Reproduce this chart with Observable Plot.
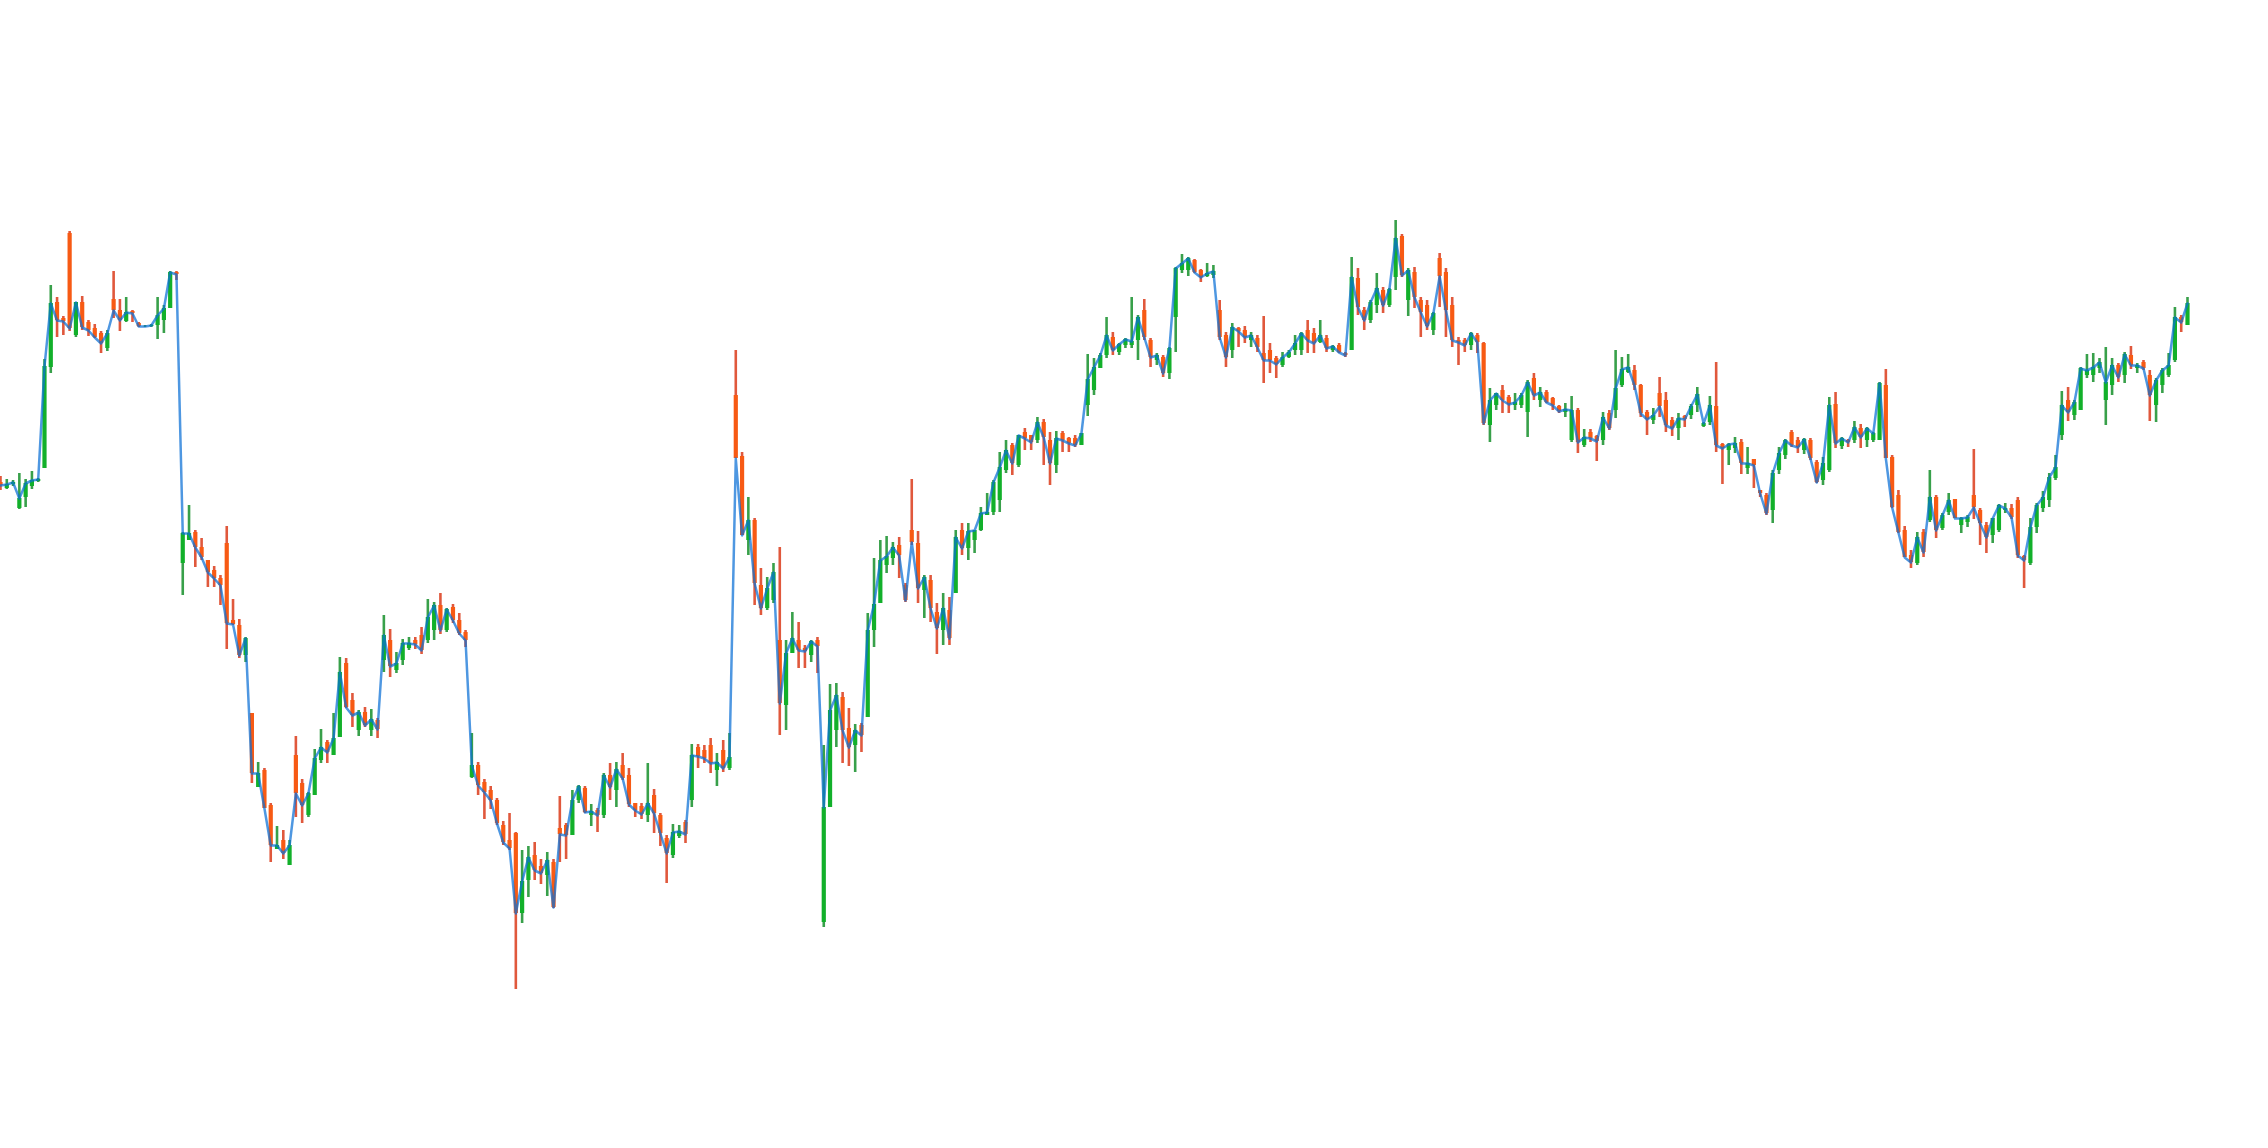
<!DOCTYPE html>
<html><head><meta charset="utf-8">
<script src="https://cdn.jsdelivr.net/npm/d3@7"></script>
<script src="https://cdn.jsdelivr.net/npm/@observablehq/plot@0.6"></script>
<style>html,body{margin:0;padding:0;background:#fff;overflow:hidden}#chart svg{display:block}</style>
</head><body><div id="chart"></div>
<script>
const open = [618,612,616,592,603,614,619,632,733,798,782,867,765,798,778,772,767,752,801,790,779,789,777,774,774,775,780,792,828,537,560,568,553,540,530,522,557,480,475,445,387,313,330,295,251,260,235,345,317,285,305,340,358,345,363,437,400,370,388,370,380,440,460,430,440,452,460,465,460,470,495,470,493,480,468,323,335,318,310,300,275,260,267,187,220,245,234,225,238,272,275,265,300,312,285,290,285,325,310,335,325,297,294,285,305,285,262,245,264,278,300,353,350,355,330,350,332,705,644,560,580,515,492,500,460,395,447,460,452,445,460,178,293,370,403,372,355,375,383,470,497,535,542,555,515,570,557,510,520,488,470,490,507,570,552,560,570,585,588,600,630,655,635,668,665,660,678,660,635,667,662,662,655,695,710,732,745,763,748,755,755,760,790,760,740,743,727,783,830,830,840,830,824,825,790,765,750,772,770,760,762,747,750,742,735,743,750,750,770,767,758,762,750,755,747,750,822,790,780,795,810,795,823,864,800,828,800,795,770,842,828,795,760,760,755,765,757,675,695,710,703,695,695,688,722,700,708,702,694,688,660,690,655,668,664,660,687,690,715,728,730,715,688,680,707,700,680,672,684,685,695,674,678,694,656,650,652,658,632,641,610,605,590,630,645,668,660,650,660,638,620,630,696,654,660,660,672,660,660,660,715,643,605,570,545,537,568,580,603,572,588,601,575,578,605,590,575,565,570,590,592,600,544,537,573,592,600,622,665,700,685,690,725,725,732,700,715,735,725,745,732,738,725,695,715,725,740,783,775];
const high = [624,621,620,627,621,629,622,741,815,803,784,869,798,804,780,776,769,770,829,801,803,790,778,775,776,803,795,829,829,568,595,570,562,540,534,525,574,501,481,463,387,338,332,297,274,270,260,364,321,308,351,371,360,387,443,442,407,390,393,391,382,485,471,448,461,463,463,473,501,498,507,492,496,487,470,367,338,321,314,302,279,287,268,250,254,258,241,248,241,304,277,310,315,314,296,292,327,337,338,347,332,297,297,337,311,287,265,276,275,280,356,356,355,362,347,360,367,750,648,603,582,532,523,537,553,460,488,478,455,460,463,355,416,417,408,392,376,377,487,542,560,564,558,563,517,621,569,525,525,497,507,503,570,577,577,570,593,607,620,648,660,657,665,672,665,683,681,668,669,669,663,665,667,746,742,747,783,768,757,762,803,785,801,762,747,745,753,833,846,843,841,831,837,835,800,768,777,773,774,768,765,784,757,744,748,750,765,768,780,772,780,765,755,757,748,843,832,793,800,827,813,812,880,866,832,833,803,800,788,847,832,803,763,762,768,767,758,712,707,715,705,707,707,720,727,713,710,703,695,697,704,692,671,671,665,688,690,750,743,746,735,716,690,692,723,708,683,687,685,696,713,678,704,738,657,657,663,661,653,641,610,607,630,653,661,670,663,662,662,640,643,703,708,663,661,679,676,673,668,718,731,645,610,574,550,568,571,630,605,587,607,601,583,585,651,592,578,582,596,597,596,603,545,582,597,609,627,645,709,713,700,733,746,747,742,753,742,737,748,754,737,740,730,722,732,747,793,785,803];
const low = [610,611,614,591,593,611,618,632,727,763,765,769,763,770,764,762,747,749,782,769,778,778,773,773,773,761,767,792,820,505,560,533,540,513,513,495,451,475,442,438,317,313,292,238,251,241,235,283,277,283,305,337,337,345,363,392,373,364,373,364,362,428,423,427,435,450,451,446,457,460,466,468,477,465,453,322,305,281,291,275,255,250,111,177,203,220,216,204,192,238,241,265,297,287,274,268,282,300,293,320,293,283,281,278,267,254,217,242,262,257,293,332,337,327,314,328,330,642,565,545,495,485,490,497,365,370,447,432,432,438,427,173,293,353,337,334,328,348,383,453,497,527,535,522,498,555,497,482,478,446,455,455,507,545,540,547,569,585,585,588,627,625,633,650,650,657,635,615,627,648,648,653,655,684,705,732,742,745,745,752,752,740,760,733,735,723,721,748,827,824,827,818,823,822,760,733,742,753,757,753,748,717,727,722,733,742,745,745,747,747,757,748,748,747,743,750,785,770,777,787,787,793,810,823,784,792,763,770,765,793,763,753,735,748,750,747,675,658,690,687,687,690,692,663,700,693,697,690,687,683,658,647,653,658,639,655,670,682,713,727,710,683,665,676,683,668,664,660,673,681,688,673,675,648,616,635,647,626,626,612,603,585,577,626,641,653,647,646,640,617,615,628,652,651,653,657,652,653,658,660,642,592,567,543,532,535,543,578,562,570,585,582,567,573,581,555,547,557,568,587,581,542,512,535,567,588,593,620,660,679,680,690,722,718,727,675,705,718,717,731,727,730,679,678,707,723,738,768,775];
const close = [615,616,618,602,617,620,621,734,797,780,779,772,798,773,770,763,757,767,790,780,788,787,774,774,775,785,792,828,826,567,567,553,543,528,522,515,477,476,445,462,327,327,292,255,255,247,255,307,295,307,342,353,348,362,428,393,385,388,375,381,371,465,434,437,457,457,456,450,483,495,470,491,480,467,460,335,315,308,300,277,258,252,187,219,243,230,227,240,193,266,265,300,314,288,289,285,325,313,331,322,296,290,286,297,287,267,247,268,269,266,345,344,342,337,338,332,343,642,565,580,517,492,512,528,397,447,462,450,449,459,454,293,390,405,370,353,370,365,470,496,540,544,553,545,500,558,512,523,492,472,492,462,563,552,569,570,587,588,618,633,650,637,665,662,658,678,663,637,662,660,657,655,667,721,733,745,765,750,756,761,759,783,763,743,745,727,752,832,837,842,828,823,827,829,763,743,773,769,763,765,753,740,740,736,743,748,757,767,760,757,765,752,754,748,745,823,793,780,798,812,795,811,862,825,830,803,788,774,787,824,790,760,758,755,767,758,677,700,707,700,696,698,705,718,705,708,698,695,689,691,690,658,663,662,659,683,672,712,731,733,715,687,681,685,694,675,672,682,681,694,706,677,695,655,652,656,657,637,637,635,607,587,627,647,660,655,653,661,642,618,637,695,657,662,658,673,663,672,667,717,642,593,568,543,538,563,548,603,570,585,600,582,582,583,593,577,563,582,595,592,583,545,540,573,595,603,623,633,695,688,698,732,730,733,738,718,735,723,746,735,735,732,705,720,730,735,783,778,797];

const kinds = ["upWick", "downWick", "upBody", "downBody"];
const kindColors = ["#38a04a", "#e0583c", "#12b02a", "#f75a14"];

const candles = open.map((o, i) => ({i, open: o, high: high[i], low: low[i], close: close[i]}));

const chart = Plot.plot({
  width: 2268,
  height: 1148,
  marginTop: 0,
  marginBottom: 0,
  marginLeft: 0,
  marginRight: 81,
  x: {domain: [0, candles.length - 1], axis: null},
  y: {domain: [-48, 1100], axis: null},
  color: {domain: kinds, range: kindColors},
  marks: [
    Plot.ruleX(candles, {x: "i", y1: "low", y2: "high", stroke: d => d.close >= d.open ? "upWick" : "downWick", strokeWidth: 2.6}),
    Plot.ruleX(candles, {x: "i", y1: "open", y2: "close", stroke: d => d.close >= d.open ? "upBody" : "downBody", strokeWidth: 4.2}),
    Plot.line(candles, {x: "i", y: "close", stroke: "#0a6fd6", strokeWidth: 2.5, strokeOpacity: 0.72, strokeLinejoin: "round"})
  ]
});
document.getElementById("chart").append(chart);
</script>
</body></html>
